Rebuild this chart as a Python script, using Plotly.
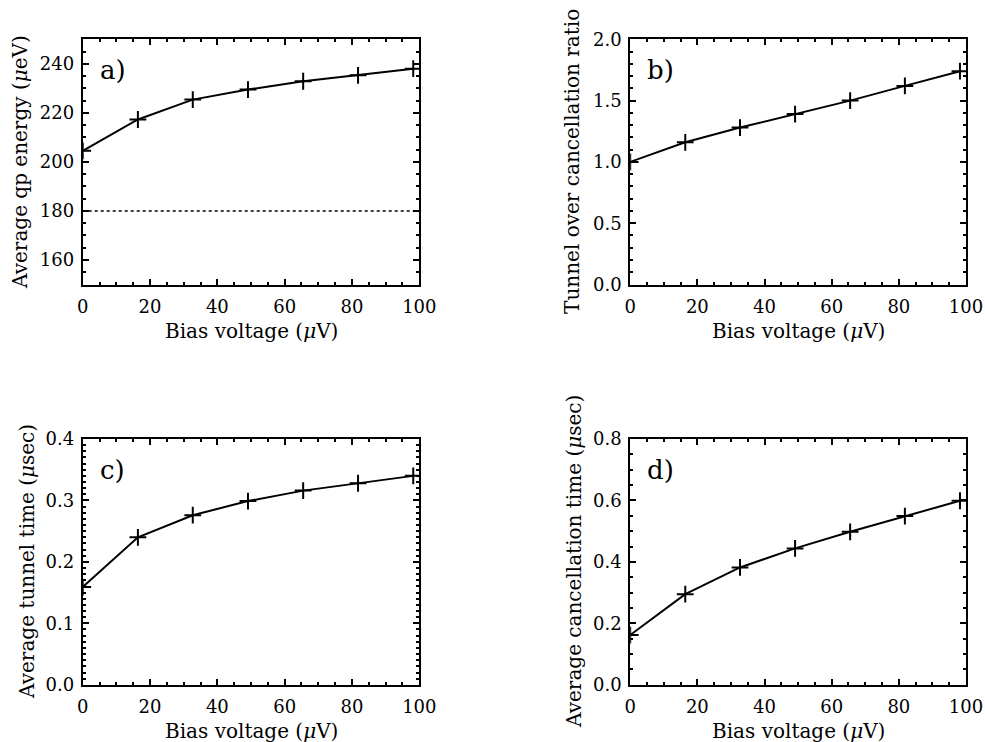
import plotly.graph_objects as go

# Bias voltage points (µV)
bias = [0, 16.4, 32.7, 49.1, 65.5, 81.8, 98.2]

# a) average quasiparticle energy (µeV)
qp_energy = [204.5, 217.3, 225.4, 229.5, 232.9, 235.3, 238.0]
gap_energy = 180.0
# b) tunnel over cancellation ratio
ratio = [1.0, 1.16, 1.28, 1.39, 1.50, 1.62, 1.74]
# c) average tunnel time (µs)
tunnel_time = [0.159, 0.240, 0.276, 0.299, 0.316, 0.328, 0.340]
# d) average cancellation time (µs)
cancel_time = [0.162, 0.295, 0.382, 0.444, 0.498, 0.549, 0.599]

x_ticks = [0, 20, 40, 60, 80, 100]

W, H = 985, 742
FONT = "DejaVu Serif"

fig = go.Figure()

panels = [
    # (xaxis id, yaxis id, values, y range, y major, y minor, ytitle, label)
    ("x", "y", qp_energy, [150, 250], 20, 5, "Average qp energy (<i>μ</i>eV)", "a)"),
    ("x2", "y2", ratio, [0, 2.0], 0.5, 0.1, "Tunnel over cancellation ratio", "b)"),
    ("x3", "y3", tunnel_time, [0, 0.4], 0.1, 0.01, "Average tunnel time (<i>μ</i>sec)", "c)"),
    ("x4", "y4", cancel_time, [0, 0.8], 0.2, 0.05, "Average cancellation time (<i>μ</i>sec)", "d)"),
]

# pixel boxes of each plot area: left, right, top, bottom
boxes = [
    (82.7, 419.3, 39.3, 284.5),
    (630.2, 966.0, 39.3, 284.5),
    (82.7, 419.3, 439.0, 684.8),
    (630.2, 966.0, 439.0, 684.8),
]
ytitle_x = [20, 572, 27, 574]

for i, (xa, ya, vals, yr, ymaj, ymin, ytitle, lab) in enumerate(panels):
    fig.add_trace(go.Scatter(
        x=bias, y=vals, xaxis=xa, yaxis=ya, mode="lines+markers",
        line=dict(color="black", width=2),
        marker=dict(symbol="cross-thin", size=12, line=dict(color="black", width=2)),
        showlegend=False,
    ))
    l, r, t, b = boxes[i]
    suffix = "" if i == 0 else str(i + 1)
    common = dict(
        showline=True, linewidth=2, linecolor="black", mirror="ticks",
        ticks="inside", ticklen=6, tickwidth=1.5, tickcolor="black",
        showgrid=False, zeroline=False, automargin=False,
        tickfont=dict(family=FONT, size=18, color="black"),
    )
    fig.update_layout(**{
        "xaxis" + suffix: dict(
            domain=[l / W, r / W], anchor=ya, range=[0, 100],
            tickvals=x_ticks, ticklabelstandoff=5,
            minor=dict(ticks="inside", ticklen=3, tickwidth=1.5, tickcolor="black", dtick=5),
            **common),
        "yaxis" + suffix: dict(
            domain=[1 - b / H, 1 - t / H], anchor=xa, range=yr,
            tick0=0, dtick=ymaj, tickformat=".1f" if ymaj < 1 else "d",
            ticklabelstandoff=3,
            minor=dict(ticks="inside", ticklen=3, tickwidth=1.5, tickcolor="black",
                       tick0=0, dtick=ymin),
            **common),
    })
    # x axis title
    fig.add_annotation(
        x=(l + r) / 2 / W, y=1 - (b + 46) / H, xref="paper", yref="paper",
        text="Bias voltage (<i>μ</i>V)", showarrow=False,
        font=dict(family=FONT, size=20, color="black"),
        xanchor="center", yanchor="middle")
    # y axis title
    fig.add_annotation(
        x=ytitle_x[i] / W, y=1 - (t + b) / 2 / H, xref="paper", yref="paper",
        text=ytitle, textangle=-90, showarrow=False,
        font=dict(family=FONT, size=20, color="black"),
        xanchor="center", yanchor="middle")
    # panel label
    fig.add_annotation(
        x=(l + 30) / W, y=1 - (t + 31) / H, xref="paper", yref="paper",
        text=lab, showarrow=False,
        font=dict(family=FONT, size=26, color="black"),
        xanchor="center", yanchor="middle")

# dotted reference level in panel a
fig.add_trace(go.Scatter(
    x=[0, 100], y=[gap_energy, gap_energy], xaxis="x", yaxis="y", mode="lines",
    line=dict(color="black", width=1.5, dash="3px,3px"), showlegend=False,
))

fig.update_layout(
    template="none",
    width=W, height=H,
    margin=dict(l=0, r=0, t=0, b=0, autoexpand=False),
    paper_bgcolor="white", plot_bgcolor="white",
)

fig.write_html("out.html")
